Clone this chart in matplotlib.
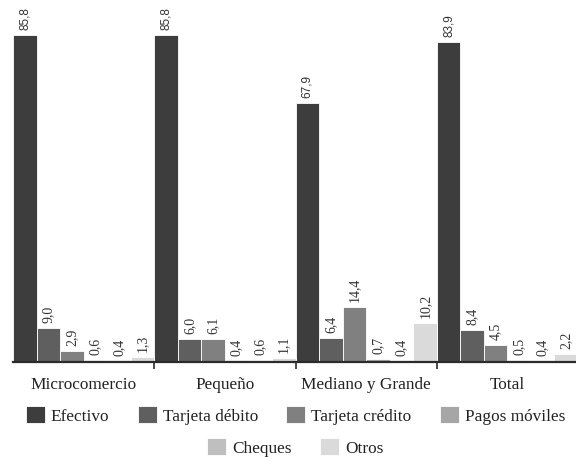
import numpy as np
import matplotlib
matplotlib.use("Agg")
from matplotlib import pyplot as plt

# Data
groups = ["Microcomercio", "Pequeño", "Mediano y Grande", "Total"]
series = ["Efectivo", "Tarjeta débito", "Tarjeta crédito", "Pagos móviles", "Cheques", "Otros"]
efectivo = [85.8, 85.8, 67.9, 83.9]
debito = [9.0, 6.0, 6.4, 8.4]
credito = [2.9, 6.1, 14.4, 4.5]
moviles = [0.6, 0.4, 0.7, 0.5]
cheques = [0.4, 0.6, 0.4, 0.4]
otros = [1.3, 1.1, 10.2, 2.2]
values = [efectivo, debito, credito, moviles, cheques, otros]
colors = ["#3d3d3d", "#5f5f5f", "#808080", "#a6a6a6", "#bfbfbf", "#dadada"]

serif = "Liberation Serif"
sans = "Liberation Sans"
plt.rcParams["font.family"] = serif

fig = plt.figure(figsize=(5.76, 4.57), dpi=100)
ax = fig.add_axes([13 / 576, 1 - 362 / 457, 565 / 576, 362 / 457])

n = len(series)
w = 1.0 / n
x = np.arange(len(groups))
handles = []
for j, (name, vals, c) in enumerate(zip(series, values, colors)):
    bars = ax.bar(x + j * w, vals, width=w, align="edge", color=c,
                  edgecolor="white", linewidth=0.6, label=name, zorder=2)
    handles.append(bars)
    for b, v in zip(bars, vals):
        txt = f"{v:.1f}".replace(".", ",")
        if j == 0:
            font, size = sans, 8.5
        else:
            font, size = serif, 10
        ax.annotate(txt, (b.get_x() + b.get_width() / 2, v),
                    xytext=(0, 3.5), textcoords="offset points",
                    rotation=90, ha="center", va="bottom",
                    fontsize=size, family=font, color="#333333")

ax.set_xlim(0, len(groups))
ax.set_ylim(0, 95)

for s in ["left", "right", "top"]:
    ax.spines[s].set_visible(False)
ax.spines["bottom"].set_color("#2b2b2b")
ax.spines["bottom"].set_linewidth(1.6)
ax.spines["bottom"].set_zorder(3)
ax.set_yticks([])

# group separators as major ticks, names on minor ticks
ax.set_xticks([1, 2, 3])
ax.set_xticklabels([])
ax.tick_params(axis="x", which="major", direction="out", length=5,
               width=1.2, color="#2b2b2b")
ax.set_xticks(x + 0.5, minor=True)
ax.set_xticklabels(groups, minor=True, family=serif, fontsize=12.4,
                   color="#222222")
ax.tick_params(axis="x", which="minor", length=0, pad=11)

# legend in two centred rows
leg_kw = dict(frameon=False, loc="center", handlelength=1.1, handleheight=1.1,
              handletextpad=0.35, columnspacing=1.65, borderpad=0, borderaxespad=0,
              fontsize=12.4)
leg1 = ax.legend(handles[:4], series[:4], ncol=4,
                 bbox_to_anchor=(0.5, (362 - 415.5) / 362), **leg_kw)
ax.add_artist(leg1)
leg2 = ax.legend(handles[4:], series[4:], ncol=2,
                 bbox_to_anchor=(0.5, (362 - 447.5) / 362), **leg_kw)
for leg in (leg1, leg2):
    for t in leg.get_texts():
        t.set_color("#222222")
        t.set_family(serif)

fig.savefig("out.png", dpi=100)
